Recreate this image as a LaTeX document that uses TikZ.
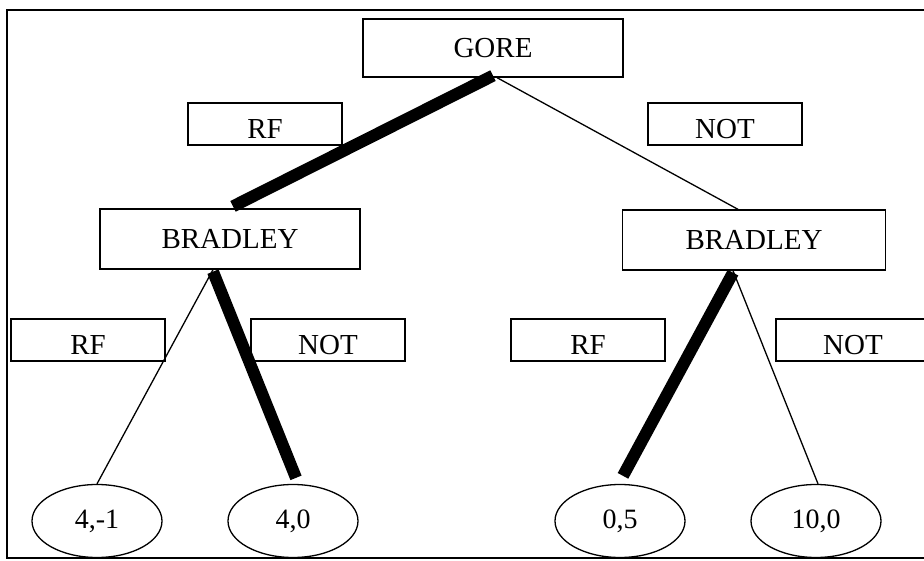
\documentclass[tikz,border=0pt]{standalone}
\usepackage{fontspec}
\setmainfont{Liberation Serif}
\usetikzlibrary{shapes.geometric,calc}
\begin{document}
\begin{tikzpicture}[x=1pt,y=-1pt,
  player/.style={draw,line width=1.3pt,rectangle,minimum width=260pt,minimum height=58pt,inner sep=0pt,font=\fontsize{29}{29}\selectfont},
  lab/.style={draw,line width=1.3pt,rectangle,minimum width=154pt,inner xsep=0pt,inner ysep=6pt,text height=30pt,text depth=0pt,font=\fontsize{29}{29}\selectfont},
  payoff/.style={draw,line width=1.3pt,ellipse,minimum width=130pt,minimum height=73pt,inner sep=0pt,font=\fontsize{28}{28}\selectfont},
  thin/.style={line width=1.3pt},
  thick/.style={line width=12pt}]
\useasboundingbox (0,0) rectangle (924,561);
\draw[line width=1.5pt] (940,10) -- (7,10) -- (7,558) -- (940,558);
\node[player] (gore) at (493,48) {GORE};
\node[lab] (re1) at (265,124) {RF};
\node[lab] (not1) at (725,124) {NOT};
\node[player,minimum height=60pt] (bl) at (230,239) {BRADLEY};
\node[player,minimum width=263pt,minimum height=60pt] (br) at (754,240) {BRADLEY};
\node[lab] (re2) at (88,340) {RF};
\node[lab] (not2) at (328,340) {NOT};
\node[lab] (re3) at (588,340) {RF};
\node[lab] (not3) at (853,340) {NOT};
\node[payoff] (e1) at (97,521) {4,-1};
\node[payoff] (e2) at (293,521) {4,0};
\node[payoff] (e3) at (620,521) {0,5};
\node[payoff] (e4) at (816,521) {10,0};
\draw[thick] ([yshift=2pt]gore.south) -- ([xshift=3pt,yshift=2pt]bl.north);
\draw[thin] ([xshift=4pt]gore.south) -- ([xshift=-16pt]br.north);
\draw[thin] ([xshift=-17pt]bl.south) -- (e1.north);
\draw[thick] ([xshift=-17pt,yshift=-2pt]bl.south) -- ([xshift=3pt,yshift=6pt]e2.north);
\draw[thick] ([xshift=-21pt,yshift=-2pt]br.south) -- ([xshift=3pt,yshift=8pt]e3.north);
\draw[thin] ([xshift=-21pt]br.south) -- ([xshift=2pt]e4.north);
\end{tikzpicture}
\end{document}
